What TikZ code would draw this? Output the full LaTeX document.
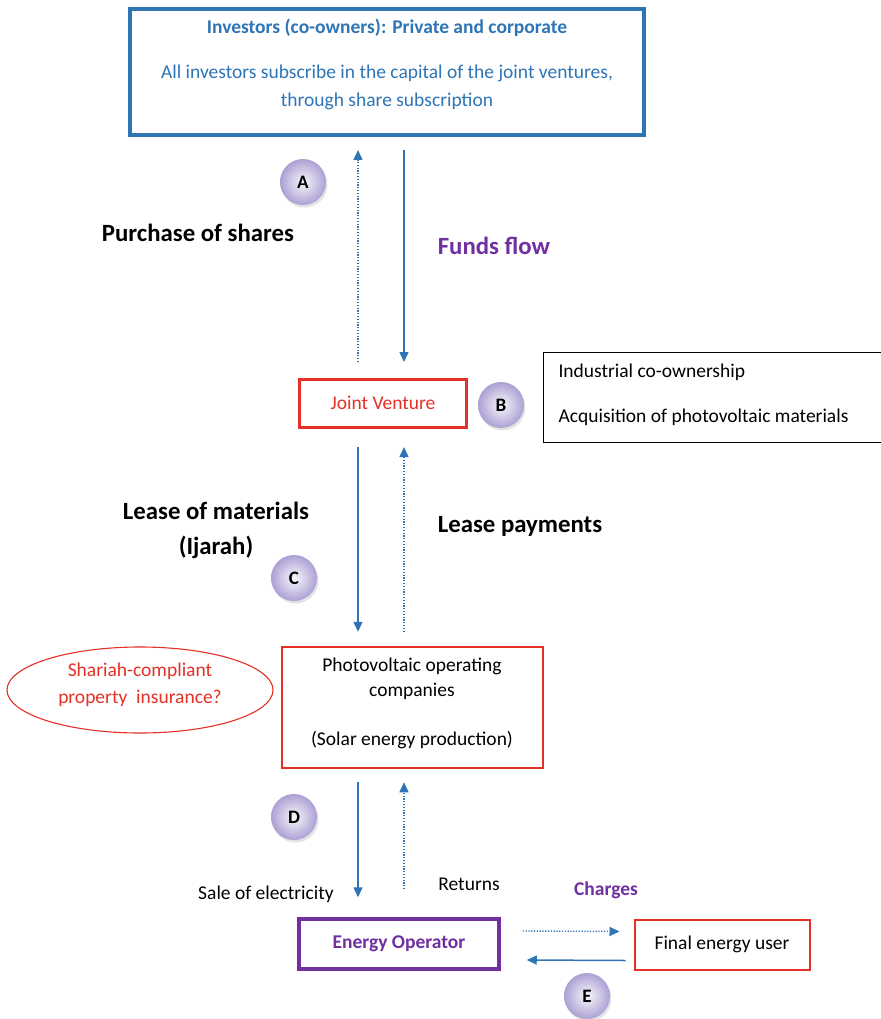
\documentclass[tikz,border=0pt]{standalone}
\usepackage{fontspec}
\setmainfont{Carlito}
\usetikzlibrary{arrows.meta,shapes.geometric,shadows}
\definecolor{cblue}{RGB}{46,117,182}
\definecolor{cred}{RGB}{228,48,38}
\definecolor{cpurple}{RGB}{112,48,160}
\definecolor{clav}{RGB}{172,160,212}
\tikzset{
  sarrow/.style={draw=cblue,line width=1.5pt,-{Triangle[width=9pt,length=10pt]}},
  darrow/.style={draw=cblue,line width=1.4pt,dash pattern=on 1.2pt off 1.6pt,-{Triangle[width=9pt,length=10pt]}},
  box/.style={draw,rectangle,inner sep=0pt},
  badge/.style={circle,minimum size=46pt,inner sep=0pt,inner color=white!92!clav,outer color=clav,shade,
     drop shadow={opacity=0.22,shadow xshift=1.5pt,shadow yshift=-2.5pt},font=\fontsize{19}{22}\selectfont\bfseries},
  big/.style={font=\fontsize{24.8}{29}\selectfont\bfseries},
  txt/.style={font=\fontsize{19.5}{23}\selectfont},
}
\begin{document}
\begin{tikzpicture}[x=1pt,y=-1pt]
\useasboundingbox[fill=white] (0,0) rectangle (880,1019);
\coordinate (xL) at (358,0);
\coordinate (xR) at (404,0);
% boxes
\node[box,draw=cblue,line width=4pt,minimum width=514pt,minimum height=126pt] (inv) at (387,72) {};
\node[text=cblue,font=\fontsize{19.5}{23}\selectfont\bfseries] (invt) at (387,28) {Investors (co-owners): Private and corporate};
\node[text=cblue,align=center,font=\fontsize{19.5}{28}\selectfont] (invb) at (387,87) {All investors subscribe in the capital of the joint ventures,\\through share subscription};
\node[box,draw=cred,line width=3pt,minimum width=167pt,minimum height=48pt,txt,text=cred] (jv) at (383,403.5) {\raisebox{2pt}{Joint Venture}};
\node[box,draw=black,line width=0.8pt,minimum width=340pt,minimum height=90pt] (ind) at (713,397) {};
\node[txt,anchor=west] (ind1) at (555,372) {Industrial co-ownership};
\node[txt,anchor=west] (ind2) at (555,417) {Acquisition of photovoltaic materials};
\node[box,draw=cred,line width=2.5pt,minimum width=261pt,minimum height=121pt] (pv) at (412.5,707.5) {};
\node[align=center,font=\fontsize{19.5}{25}\selectfont] (pv1) at (412,678.5) {Photovoltaic operating\\companies};
\node[txt] (pv2) at (412,740) {(Solar energy production)};
\node[ellipse,draw=cred,line width=1.1pt,minimum width=266pt,minimum height=86pt,inner sep=0pt] (ell) at (140,690) {};
\node[text=cred,align=center,font=\fontsize{19.5}{27}\selectfont] (ellt) at (140,684.5) {Shariah-compliant\\property\ \ insurance?};
\node[box,draw=cpurple,line width=3.5pt,minimum width=200pt,minimum height=50pt,text=cpurple,font=\fontsize{19.5}{23}\selectfont\bfseries] (eo) at (399,944) {\raisebox{2pt}{Energy Operator}};
\node[box,draw=cred,line width=2pt,minimum width=175pt,minimum height=50pt,txt] (feu) at (722,944.5) {\raisebox{4pt}{Final energy user}};
% badges
\node[badge] (A) at (303,182) {A};
\node[badge] (B) at (501,405) {B};
\node[badge] (C) at (294,578) {C};
\node[badge] (D) at (294,817) {D};
\node[badge] (E) at (587,996) {E};
% labels
\node[big] (l1) at (198,233) {Purchase of shares};
\node[big,text=cpurple] (l2) at (494,246) {Funds flow};
\node[align=center,font=\fontsize{24.8}{35}\selectfont\bfseries] (l3) at (216,530) {Lease of materials\\(Ijarah)};
\node[big] (l4) at (520,526) {Lease payments};
\node[txt] (l5) at (266,894) {Sale of electricity};
\node[txt] (l6) at (469,884) {Returns};
\node[text=cpurple,font=\fontsize{19.5}{23}\selectfont\bfseries] (l7) at (606,890) {Charges};
% arrows
\draw[sarrow] ([yshift=-13pt]inv.south -| xR) -- ([yshift=16pt]jv.north -| xR);
\draw[darrow] ([yshift=16pt]jv.north -| xL) -- ([yshift=-13pt]inv.south -| xL);
\draw[sarrow] ([yshift=-18pt]jv.south -| xL) -- ([yshift=14pt]pv.north -| xL);
\draw[darrow] ([yshift=14pt]pv.north -| xR) -- ([yshift=-18pt]jv.south -| xR);
\draw[sarrow] ([yshift=-13pt]pv.south -| xL) -- ([yshift=20pt]eo.north -| xL);
\draw[darrow] ([yshift=28pt]eo.north -| xR) -- ([yshift=-13pt]pv.south -| xR);
\draw[darrow] ([xshift=22pt,yshift=13pt]eo.east) -- ([xshift=-14pt,yshift=13pt]feu.west);
\draw[sarrow] ([xshift=-8pt,yshift=-16pt]feu.west) -- ([xshift=26pt,yshift=-16pt]eo.east);
\end{tikzpicture}
\end{document}
